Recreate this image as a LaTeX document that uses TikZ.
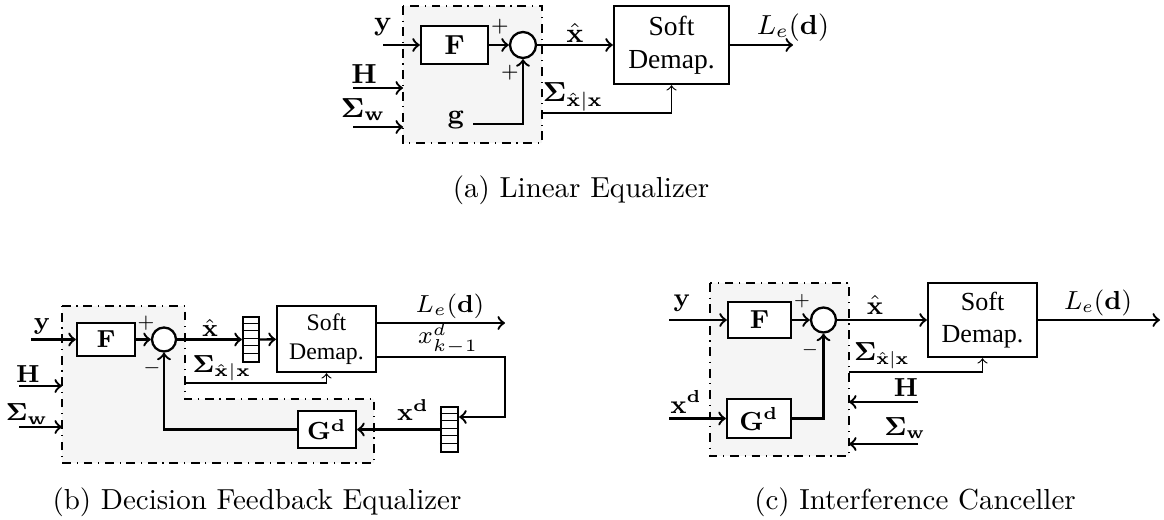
\RequirePackage{fix-cm}
\documentclass[tikz,border=0pt]{standalone}
\usepackage[no-math]{fontspec}
\newfontfamily\tms{Liberation Serif}
\newcommand\pxl[1]{#1*0.345pt}
\begin{document}
\begin{tikzpicture}[x=0.345pt,y=-0.345pt,
  blk/.style={draw,thick,inner sep=0pt,fill=white},
  sumn/.style={draw,thick,circle,inner sep=0pt,fill=white},
  ar/.style={->,thick},
  tar/.style={->,thin},
  dbox/.style={draw,thin,dash dot,fill=black!4},
  lbl/.style={inner sep=0pt},
  buf/.style={draw,thick,fill=white,inner sep=0pt},
  captxt/.style={inner sep=0pt,font=\fontsize{10}{12}\selectfont}]
\useasboundingbox (0,0) rectangle (1164,519);

% ---------------- (a) ----------------
\begin{scope}[font=\fontsize{9.5}{11.5}\selectfont]
\draw[dbox] (403,6) rectangle (542,143);
\node[blk,minimum width=\pxl{67},minimum height=\pxl{38}] (Fa) at (454.5,45) {$\mathbf{F}$};
\node[sumn,minimum size=\pxl{26}] (Sa) at (523,45) {};
\node[blk,minimum width=\pxl{115},minimum height=\pxl{78},align=center,font=\tms\fontsize{9.5}{11.5}\selectfont] (Da) at (671.5,45) {Soft\\Demap.};
\coordinate (ya) at (383,45);
\draw[ar] (ya) -- (Fa);
\node[lbl] (yla) at (383,27) {$\mathbf{y}$};
\draw[ar] (Fa) -- (Sa);
\node[lbl] (p1a) at (500,27) {$\scriptstyle +$};
\node[lbl] (p2a) at (510,73) {$\scriptstyle +$};
\coordinate (Ha0) at (353,88); \coordinate (Ha1) at (403,88);
\draw[ar] (Ha0) -- (Ha1);
\node[lbl] (Hla) at (364,74) {$\mathbf{H}$};
\coordinate (Wa0) at (353,127); \coordinate (Wa1) at (403,127);
\draw[ar] (Wa0) -- (Wa1);
\node[lbl] (Wla) at (363,110) {$\mathbf{\Sigma}_{\mathbf{w}}$};
\node[lbl] (gla) at (456,120) {$\mathbf{g}$};
\coordinate (ga) at (473,124);
\draw[ar] (ga) -| (Sa.south);
\draw[ar] (Sa) -- (Da);
\node[lbl] (xla) at (575,33) {$\hat{\mathbf{x}}$};
\coordinate (oa) at (793,45);
\draw[ar] (Da) -- (oa);
\node[lbl] (Lla) at (793,28) {$L_e(\mathbf{d})$};
\coordinate (sa0) at (542,113);
\draw[tar] (sa0) -| (Da.south);
\node[lbl] (Sla) at (573,97) {$\mathbf{\Sigma}_{\hat{\mathbf{x}}|\mathbf{x}}$};
\end{scope}
\node[captxt] (capa) at (581,190) {(a) Linear Equalizer};

% ---------------- (b) ----------------
\begin{scope}[font=\fontsize{8.5}{10.2}\selectfont]
\draw[dbox] (62,306) -- (185,306) -- (185,399) -- (374,399) -- (374,463) -- (62,463) -- cycle;
\node[blk,minimum width=\pxl{58},minimum height=\pxl{33}] (Fb) at (106,339.5) {$\mathbf{F}$};
\node[sumn,minimum size=\pxl{24}] (Sb) at (164,339.5) {};
\coordinate (yb) at (31,339.5);
\draw[ar] (yb) -- (Fb);
\node[lbl] (ylb) at (42,326) {$\mathbf{y}$};
\draw[ar] (Fb) -- (Sb);
\node[lbl] (p1b) at (146,323) {$\scriptstyle +$};
\node[lbl] (m1b) at (152,368) {$\scriptstyle -$};
\coordinate (Hb0) at (19,386); \coordinate (Hb1) at (62,386);
\draw[ar] (Hb0) -- (Hb1);
\node[lbl] (Hlb) at (28,374) {$\mathbf{H}$};
\coordinate (Wb0) at (19,427); \coordinate (Wb1) at (62,427);
\draw[ar] (Wb0) -- (Wb1);
\node[lbl] (Wlb) at (27,414) {$\mathbf{\Sigma}_{\mathbf{w}}$};
\node[buf,minimum width=\pxl{16},minimum height=\pxl{45}] (B1b) at (251,339.5) {};
\foreach \i in {1,...,5} \draw[thin] (B1b.north west) ++(0,\i*7.5) -- ++(16,0);
\draw[ar] (Sb) -- (B1b);
\node[lbl] (xlb) at (210,328) {$\hat{\mathbf{x}}$};
\node[blk,minimum width=\pxl{99},minimum height=\pxl{66},align=center,font=\tms\fontsize{8.2}{10}\selectfont] (Db) at (326.5,339) {Soft\\Demap.};
\draw[ar] (B1b) -- (Db);
\coordinate (ob) at (505,323);
\draw[ar] (Db.east |- ob) -- (ob);
\node[lbl] (Llb) at (450,306) {$L_e(\mathbf{d})$};
\coordinate (cb) at (505,357);
\coordinate (fb) at (505,417);
\node[buf,minimum width=\pxl{17},minimum height=\pxl{45}] (B2b) at (449.5,429.5) {};
\foreach \i in {1,...,5} \draw[thin] (B2b.north west) ++(0,\i*7.5) -- ++(17,0);
\draw[ar] (Db.east |- cb) -- (cb) -- (fb) -- (B2b.east |- fb);
\node[lbl] (xklb) at (448,339) {$x^{d}_{k-1}$};
\node[blk,minimum width=\pxl{58},minimum height=\pxl{37}] (Gb) at (327,429.5) {$\mathbf{G}^{\mathbf{d}}$};
\draw[ar] (B2b) -- (Gb);
\node[lbl] (xdlb) at (413,410) {$\mathbf{x}^{\mathbf{d}}$};
\draw[ar] (Gb.west) -| (Sb.south);
\coordinate (sb0) at (185,383);
\draw[tar] (sb0) -| (Db.south);
\node[lbl] (Slb) at (222,368) {$\mathbf{\Sigma}_{\hat{\mathbf{x}}|\mathbf{x}}$};
\end{scope}
\node[captxt] (capb) at (257,502) {(b) Decision Feedback Equalizer};

% ---------------- (c) ----------------
\begin{scope}[font=\fontsize{9}{10.8}\selectfont]
\draw[dbox] (710,283) rectangle (849,456);
\node[blk,minimum width=\pxl{63},minimum height=\pxl{36}] (Fc) at (759.5,320) {$\mathbf{F}$};
\node[sumn,minimum size=\pxl{25}] (Sc) at (823.5,320) {};
\coordinate (yc) at (669,320);
\draw[ar] (yc) -- (Fc);
\node[lbl] (ylc) at (682,303) {$\mathbf{y}$};
\draw[ar] (Fc) -- (Sc);
\node[lbl] (p1c) at (802,301) {$\scriptstyle +$};
\node[lbl] (m1c) at (810,350) {$\scriptstyle -$};
\node[blk,minimum width=\pxl{64},minimum height=\pxl{39}] (Gc) at (759,418.5) {$\mathbf{G}^{\mathbf{d}}$};
\coordinate (xdc) at (669,418.5);
\draw[ar] (xdc) -- (Gc);
\node[lbl] (xdlc) at (686,402) {$\mathbf{x}^{\mathbf{d}}$};
\draw[ar] (Gc.east) -| (Sc.south);
\node[blk,minimum width=\pxl{109},minimum height=\pxl{74},align=center,font=\tms\fontsize{9}{11}\selectfont] (Dc) at (982.5,320) {Soft\\Demap.};
\draw[ar] (Sc) -- (Dc);
\node[lbl] (xlc) at (875,305) {$\hat{\mathbf{x}}$};
\coordinate (oc) at (1160,320);
\draw[ar] (Dc) -- (oc);
\node[lbl] (Llc) at (1098,303) {$L_e(\mathbf{d})$};
\coordinate (sc0) at (849,372);
\draw[tar] (sc0) -| (Dc.south);
\node[lbl] (Slc) at (882,356) {$\mathbf{\Sigma}_{\hat{\mathbf{x}}|\mathbf{x}}$};
\coordinate (Hc0) at (918,402); \coordinate (Hc1) at (849,402);
\draw[ar] (Hc0) -- (Hc1);
\node[lbl] (Hlc) at (906,388) {$\mathbf{H}$};
\coordinate (Wc0) at (918,444); \coordinate (Wc1) at (849,444);
\draw[ar] (Wc0) -- (Wc1);
\node[lbl] (Wlc) at (905,428) {$\mathbf{\Sigma}_{\mathbf{w}}$};
\end{scope}
\node[captxt] (capc) at (915,502) {(c) Interference Canceller};
\end{tikzpicture}
\end{document}
